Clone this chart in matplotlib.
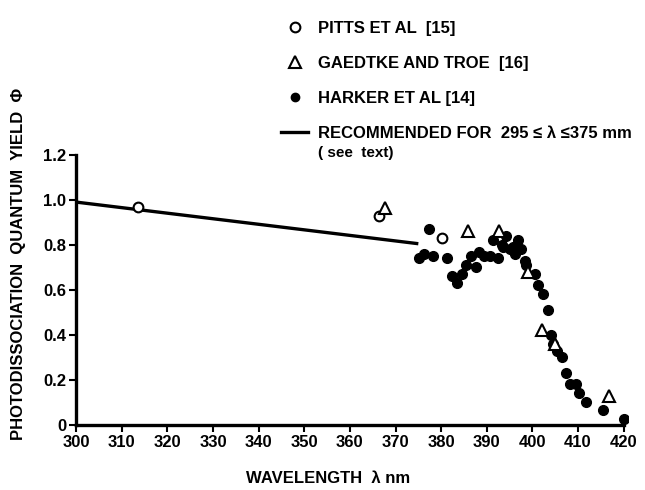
import matplotlib.pyplot as plt
from matplotlib.lines import Line2D

plt.rcParams['font.family'] = ['Liberation Sans', 'DejaVu Sans']

# data
pitts_nm = [313.5, 366.3, 380.2]
pitts_phi = [0.97, 0.93, 0.83]

gaedtke_nm = [367.8, 385.9, 392.6, 399.1, 402.2, 405.0, 416.7]
gaedtke_phi = [0.965, 0.86, 0.86, 0.68, 0.42, 0.36, 0.13]

harker_nm = [375.1, 376.2, 377.3, 378.3, 381.3, 382.4, 383.5, 384.6, 385.5,
             386.5, 387.7, 388.4, 389.4, 390.6, 391.3, 392.5, 393.3, 393.5,
             394.3, 395.1, 395.8, 396.2, 396.9, 397.6, 398.3, 398.7, 400.5,
             401.3, 402.3, 403.5, 404.1, 404.6, 405.4, 406.5, 407.4, 408.3,
             409.6, 410.3, 411.7, 415.5, 420.0]
harker_phi = [0.74, 0.76, 0.87, 0.75, 0.74, 0.66, 0.63, 0.67, 0.71,
              0.75, 0.70, 0.77, 0.75, 0.75, 0.82, 0.74, 0.80, 0.79,
              0.84, 0.78, 0.79, 0.76, 0.82, 0.78, 0.73, 0.71, 0.67,
              0.62, 0.58, 0.51, 0.40, 0.36, 0.33, 0.30, 0.23, 0.18,
              0.18, 0.14, 0.10, 0.064, 0.025]

rec_nm = [300, 375]
rec_phi = [0.99, 0.805]

xticks = list(range(300, 421, 10))
yticks = [0, 0.2, 0.4, 0.6, 0.8, 1.0, 1.2]
ytick_labels = ['0', '0.2', '0.4', '0.6', '0.8', '1.0', '1.2']

fig = plt.figure(figsize=(6.45, 4.9), dpi=100)
ax = fig.add_axes([0.118, 0.133, 0.856, 0.551])

ax.plot(rec_nm, rec_phi, color='black', lw=2.4, solid_capstyle='butt')
ax.plot(harker_nm, harker_phi, 'o', color='black', ms=7, ls='none')
ax.plot(pitts_nm, pitts_phi, 'o', mfc='white', mec='black', mew=1.5, ms=7, ls='none')
ax.plot(gaedtke_nm, gaedtke_phi, '^', mfc='white', mec='black', mew=1.5, ms=8.5, ls='none')

ax.set_xlim(300, 421)
ax.set_ylim(0, 1.2)
ax.spines['left'].set_bounds(0, 1.2)
ax.spines['bottom'].set_bounds(300, 420)
for s in ['top', 'right']:
    ax.spines[s].set_visible(False)
for s in ['left', 'bottom']:
    ax.spines[s].set_linewidth(2.4)
ax.set_xticks(xticks)
ax.set_yticks(yticks)
ax.set_yticklabels(ytick_labels)
ax.tick_params(direction='out', length=5, width=1.5, labelsize=12, pad=2)
for lab in ax.get_xticklabels() + ax.get_yticklabels():
    lab.set_fontweight('bold')

fig.text(0.508, 1 - 478 / 490, 'WAVELENGTH  λ nm', ha='center', va='center',
         fontsize=12, fontweight='bold')
fig.text(0.028, 1 - 264 / 490, 'PHOTODISSOCIATION  QUANTUM  YIELD  Φ',
         rotation=90, ha='center', va='center', fontsize=12, fontweight='bold')

# legend
handles = [
    Line2D([], [], marker='o', mfc='white', mec='black', mew=1.5, ms=7, ls='none'),
    Line2D([], [], marker='^', mfc='white', mec='black', mew=1.5, ms=8, ls='none'),
    Line2D([], [], marker='o', color='black', ms=6, ls='none'),
    Line2D([], [], color='black', lw=2.4),
]
labels = ['PITTS ET AL  [15]', 'GAEDTKE AND TROE  [16]', 'HARKER ET AL [14]',
          'RECOMMENDED FOR  295 ≤ λ ≤375 mm']
leg = fig.legend(handles, labels, loc='upper left', bbox_to_anchor=(0.413, 1 - 6 / 490),
                 frameon=False, handlelength=1.6, handletextpad=0.6,
                 labelspacing=1.2, prop={'size': 12, 'weight': 'bold'})
fig.text(0.493, 1 - 153 / 490, '( see  text)', ha='left', va='center',
         fontsize=11, fontweight='bold')

fig.savefig('out.png', dpi=100)
